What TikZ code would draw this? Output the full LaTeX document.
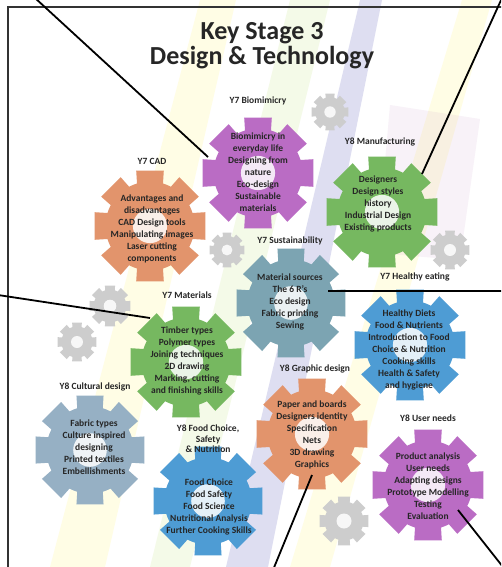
\documentclass[tikz,border=0pt]{standalone}
\usepackage{fontspec}
\setmainfont{Carlito}
\usetikzlibrary{positioning}

\definecolor{gearpurple}{RGB}{186,108,196}
\definecolor{geargreen}{RGB}{118,184,96}
\definecolor{gearorange}{RGB}{226,148,108}
\definecolor{gearteal}{RGB}{124,164,178}
\definecolor{gearblue}{RGB}{78,156,212}
\definecolor{gearslate}{RGB}{150,176,196}
\definecolor{geargrey}{RGB}{205,205,205}

% centre, outer radius, colour
\newcommand{\drawgear}[3]{%
  \fill[#3,shift={(#1)}] (-17:0.78*#2)
    \foreach \a in {0,45,...,315}{
      -- (\a-14:#2) -- (\a+14:#2) -- (\a+17:0.78*#2)
      arc[start angle=\a+17, end angle=\a+28, radius=0.78*#2]
    } -- cycle;
  \fill[white,opacity=0.85,shift={(#1)}] (0,0) circle[radius=0.3*#2];
}

\begin{document}
\begin{tikzpicture}[x=1pt,y=-1pt,>=stealth]
 \tikzstyle{geartext} = [align=center,font=\fontsize{9.5}{12}\selectfont\bfseries,text=black!85,inner sep=0]
 \tikzstyle{gearlabel} = [align=center,font=\fontsize{9.5}{10.5}\selectfont\bfseries,text=black!85,inner sep=0]
 \tikzstyle{connector} = [line width=1.8pt,black]
 \tikzstyle{band} = [opacity=0.1]

  \useasboundingbox (0,0) rectangle (501,567);
  \clip (0,0) rectangle (501,567);
  \fill[white] (0,0) rectangle (501,567);

  % Light beams behind the gears
  \fill[band,yellow] (200,0) -- (236,0) -- (105,567) -- (50,567) -- cycle;
  \fill[band,yellow!60!green] (290,0) -- (330,0) -- (190,567) -- (150,567) -- cycle;
  \fill[band,blue!40!gray,opacity=0.18] (360,0) -- (382,0) -- (268,567) -- (226,567) -- cycle;
  \fill[band,yellow] (462,0) -- (492,0) -- (330,567) -- (290,567) -- cycle;
  \fill[band,violet!50] (390,105) -- (480,119) -- (460,260) -- (377,253) -- cycle;

  % Frame
  \draw[line width=1.6pt,black!80] (8,600) -- (8,7) -- (520,7);

  % Title
  \node[font=\fontsize{26}{25}\selectfont\bfseries,align=center,text=black!85] (title) at (262,46) {Key Stage 3\\Design \& Technology};

  % Small grey gears
  \drawgear{330,112}{19}{geargrey}
  \drawgear{227,250}{18}{geargrey}
  \drawgear{450,250}{20}{geargrey}
  \drawgear{110,306}{21}{geargrey}
  \drawgear{77,342}{20}{geargrey}
  \drawgear{344,521}{25}{geargrey}

  % Gears
  \drawgear{258,173}{57}{gearpurple}
  \drawgear{382,212}{57}{geargreen}
  \drawgear{150,226}{57}{gearorange}
  \drawgear{291,303}{56}{gearteal}
  \drawgear{410,345}{57}{gearblue}
  \drawgear{186,362}{57}{geargreen}
  \drawgear{90,450}{56}{gearslate}
  \drawgear{312,434}{57}{gearorange}
  \drawgear{208,501}{56}{gearblue}
  \drawgear{428,485}{57}{gearpurple}

  % Gear texts
  \node[geartext] (bio) at (258,172) {Biomimicry in\\everyday life\\Designing from\\nature\\Eco-design\\Sustainable\\materials};
  \node[geartext] (manu) at (378,204) {Designers\\Design styles\\history\\Industrial Design\\Existing products};
  \node[geartext] (cad) at (152,229) {Advantages and\\disadvantages\\CAD Design tools\\Manipulating images\\Laser cutting\\components};
  \node[geartext] (sust) at (290,302) {Material sources\\The 6 R's\\Eco design\\Fabric printing\\Sewing};
  \node[geartext] (healthy) at (409,350) {Healthy Diets\\Food \& Nutrients\\Introduction to Food\\Choice \& Nutrition\\Cooking skills\\Health \& Safety\\and hygiene};
  \node[geartext] (mater) at (187,361) {Timber types\\Polymer types\\Joining techniques\\2D drawing\\Marking, cutting\\and finishing skills};
  \node[geartext] (cult) at (94,447) {Fabric types\\Culture inspired\\designing\\Printed textiles\\Embellishments};
  \node[geartext] (graph) at (312,435) {Paper and boards\\Designers identity\\Specification\\Nets\\3D drawing\\Graphics};
  \node[geartext] (food) at (209,507) {Food Choice\\Food Safety\\Food Science\\Nutritional Analysis\\Further Cooking Skills};
  \node[geartext] (user) at (428,486) {Product analysis\\User needs\\Adapting designs\\Prototype Modelling\\Testing\\Evaluation};

  % Gear labels
  \node[gearlabel] (bio-lbl) at (258,101) {Y7 Biomimicry};
  \node[gearlabel] (manu-lbl) at (380,142) {Y8 Manufacturing};
  \node[gearlabel] (cad-lbl) at (152,161) {Y7 CAD};
  \node[gearlabel] (sust-lbl) at (290,241) {Y7 Sustainability};
  \node[gearlabel] (healthy-lbl) at (415,277) {Y7 Healthy eating};
  \node[gearlabel] (mater-lbl) at (187,295) {Y7 Materials};
  \node[gearlabel] (cult-lbl) at (95,387) {Y8 Cultural design};
  \node[gearlabel] (graph-lbl) at (315,369) {Y8 Graphic design};
  \node[gearlabel] (food-lbl) at (208,439) {Y8 Food Choice,\\Safety\\\& Nutrition};
  \node[gearlabel] (user-lbl) at (428,418) {Y8 User needs};

  % Connectors
  \coordinate (bio-out) at (35,-2);
  \coordinate (bio-pin) at (208,157);
  \coordinate (manu-out) at (502,-2);
  \coordinate (manu-pin) at (422,174);
  \coordinate (mater-out) at (-2,295);
  \coordinate (mater-pin) at (150,318);
  \coordinate (sust-out) at (503,291);
  \coordinate (sust-pin) at (328,291);
  \coordinate (graph-out) at (273,570);
  \coordinate (graph-pin) at (312,475);
  \coordinate (user-out) at (503,567);
  \coordinate (user-pin) at (458,510);
  \draw[connector] (bio-out) -- (bio-pin);
  \draw[connector] (manu-out) -- (manu-pin);
  \draw[connector] (mater-out) -- (mater-pin);
  \draw[connector] (sust-out) -- (sust-pin);
  \draw[connector] (graph-out) -- (graph-pin);
  \draw[connector] (user-out) -- (user-pin);

\end{tikzpicture}
\end{document}
